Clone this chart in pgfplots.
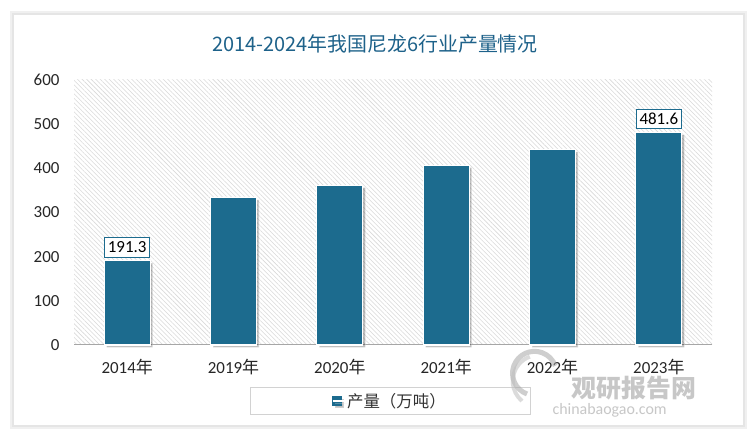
\documentclass[border=0pt]{standalone}
\usepackage{pgfplots}
\pgfplotsset{compat=1.18}
\usepackage{fontspec}
\setmainfont{Carlito}
\newfontfamily\cjk{Noto Sans CJK SC}
\usetikzlibrary{patterns.meta,shadows}
\definecolor{barcol}{RGB}{28,107,142}
\definecolor{titlecol}{RGB}{30,98,138}
\begin{document}
\begin{tikzpicture}[x=1bp,y=1bp]
\fill[white] (0,0) rectangle (750,448);
\fill[gray!12] (10,19) rectangle (747,437);
\fill[gray!20] (12,21) rectangle (745,435);
\fill[white] (14,23) rectangle (743,433);
\node[font=\cjk\fontsize{20}{20}\selectfont, text=titlecol] at (375,404) {2014-2024年我国尼龙6行业产量情况};
\begin{axis}[
  at={(74bp,103bp)}, anchor=south west,
  scale only axis, width=638bp, height=265bp,
  xmin=-0.5, xmax=5.5, ymin=0, ymax=600,
  ybar, bar width=46bp, bar shift=0pt,
  xtick={0,1,2,3,4,5},
  xticklabels={2014{\cjk 年},2019{\cjk 年},2020{\cjk 年},2021{\cjk 年},2022{\cjk 年},2023{\cjk 年}},
  ytick={0,100,200,300,400,500,600},
  axis x line*=bottom, axis y line*=left,
  y axis line style={draw=none},
  x axis line style={draw=gray!70, line width=1pt, -},
  major tick length=0pt,
  tick label style={font=\fontsize{17}{17}\selectfont, text=black!85},
  /pgf/number format/assume math mode=true,
  yticklabel style={xshift=-11bp},
  xticklabel style={yshift=-11bp},
  axis background/.style={pattern={Lines[angle=135,distance=3.2pt,line width=0.55pt]}, pattern color=gray!30},
  legend style={at={(axis description cs:0.495,-0.211)}, anchor=center, draw=gray!35, fill=white,
    inner xsep=82bp, inner ysep=4bp, font=\cjk\fontsize{16.5}{16.5}\selectfont, text=black!80},
  legend image code/.code={\fill[barcol] (0bp,-4.5bp) rectangle (9bp,4.5bp); \path (0bp,0bp) -- (12bp,0bp);},
  clip=false,
]
\addplot[fill=barcol, draw=white, line width=1.2pt,
  drop shadow={opacity=0.25, shadow xshift=2.5bp, shadow yshift=-2.5bp, fill=black}]
  coordinates {(0,191.3) (1,334) (2,362) (3,407) (4,443) (5,481.6)};
\addlegendentry{产量（万吨）}
\addplot[forget plot, draw=none, fill=none,
  nodes near coords, point meta=y,
  every node near coord/.append style={draw=barcol, fill=white, line width=1pt, inner xsep=3.5bp, inner ysep=4bp,
    text=black, font=\fontsize{17}{17}\selectfont, yshift=3bp,
    /pgf/number format/.cd, fixed, precision=1, fixed zerofill}]
  coordinates {(0,191.3) (5,481.6)};
\end{axis}
% watermark
\begin{scope}[opacity=0.55]
\draw[gray!70, line width=5bp] (527,54) arc (250:20:22);
\draw[gray!50, line width=4bp] (522,47) arc (230:110:26);
\node[font=\cjk\bfseries\fontsize{25}{25}\selectfont, text=gray!80, anchor=west] at (568,60) {观研报告网};
\node[font=\fontsize{16}{16}\selectfont, text=gray!80, anchor=west] at (549,38) {chinabaogao.com};
\end{scope}
\pgfresetboundingbox
\useasboundingbox (0,0) rectangle (750,448);
\end{tikzpicture}
\end{document}
